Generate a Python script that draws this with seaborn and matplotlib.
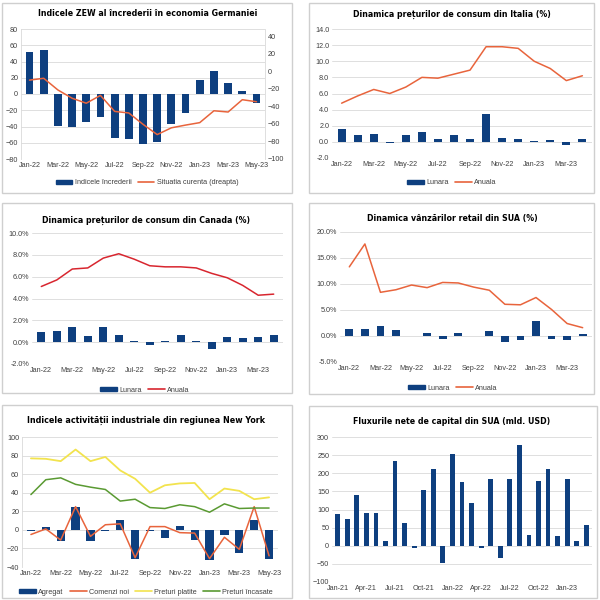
import numpy as np
import matplotlib
matplotlib.use("Agg")
import matplotlib.pyplot as plt
import seaborn as sns
from matplotlib.patches import Rectangle, Patch
from matplotlib.lines import Line2D
from matplotlib.ticker import FuncFormatter

# ---- data ----
months_22_23 = ["Jan-22", "Feb-22", "Mar-22", "Apr-22", "May-22", "Jun-22", "Jul-22", "Aug-22",
                "Sep-22", "Oct-22", "Nov-22", "Dec-22", "Jan-23", "Feb-23", "Mar-23", "Apr-23", "May-23"]

zew_incredere = [51.7, 54.3, -39.3, -41.0, -34.3, -28.0, -53.8, -55.3, -61.9, -59.2, -36.7, -23.3,
                 16.9, 28.1, 13.0, 4.1, -10.7]
zew_situatia = [-10.2, -8.1, -21.4, -30.8, -36.5, -27.6, -45.8, -47.6, -60.5, -72.2, -64.5, -61.4,
                -58.6, -45.1, -46.5, -32.5, -34.8]

italia_lunara = [1.6, 0.9, 1.0, -0.1, 0.8, 1.2, 0.4, 0.8, 0.3, 3.4, 0.5, 0.3, 0.1, 0.2, -0.4, 0.4]
italia_anuala = [4.8, 5.7, 6.5, 6.0, 6.8, 8.0, 7.9, 8.4, 8.9, 11.8, 11.8, 11.6, 10.0, 9.1, 7.6, 8.2]

canada_lunara = [0.9, 1.0, 1.4, 0.6, 1.4, 0.7, 0.1, -0.3, 0.1, 0.7, 0.1, -0.6, 0.5, 0.4, 0.5, 0.7]
canada_anuala = [5.1, 5.7, 6.7, 6.8, 7.7, 8.1, 7.6, 7.0, 6.9, 6.9, 6.8, 6.3, 5.9, 5.2, 4.3, 4.4]

sua_lunara = [1.4, 1.3, 2.0, 1.2, 0.0, 0.5, -0.5, 0.6, 0.0, 1.0, -1.2, -0.8, 2.8, -0.6, -0.7, 0.4]
sua_anuala = [13.3, 17.7, 8.4, 8.9, 9.8, 9.3, 10.3, 10.2, 9.4, 8.8, 6.1, 6.0, 7.4, 5.1, 2.4, 1.6]

ny_agregat = [-0.7, 3.1, -11.8, 24.6, -11.6, -1.2, 11.1, -31.3, -1.5, -9.1, 4.5, -11.2,
              -32.9, -5.8, -24.6, 10.8, -31.8]
ny_comenzi = [-5.0, 1.0, -11.0, 25.0, -7.0, 5.5, 6.5, -30.0, 3.5, 3.5, -3.0, -3.5,
              -31.0, -8.0, -21.0, 25.0, -28.0]
ny_platite = [77.0, 76.5, 74.0, 86.5, 74.0, 78.5, 64.0, 55.0, 40.0, 48.0, 50.0, 50.5,
              33.0, 44.5, 42.0, 33.0, 35.0]
ny_incasate = [38.0, 54.0, 56.0, 49.0, 46.0, 43.5, 31.0, 33.0, 24.0, 23.0, 27.0, 25.0,
               19.0, 28.0, 23.0, 23.5, 23.5]

flux_months = ["Jan-21", "Feb-21", "Mar-21", "Apr-21", "May-21", "Jun-21", "Jul-21", "Aug-21", "Sep-21",
               "Oct-21", "Nov-21", "Dec-21", "Jan-22", "Feb-22", "Mar-22", "Apr-22", "May-22", "Jun-22",
               "Jul-22", "Aug-22", "Sep-22", "Oct-22", "Nov-22", "Dec-22", "Jan-23", "Feb-23", "Mar-23"]
flux_values = [88, 75, 140, 89, 89, 14, 233, 64, -5, 153, 213, -47, 253, 175, 117, -6, 185, -33,
               185, 277, 30, 178, 213, 26, 183, 13, 57]

# ---- style ----
BLUE = "#0e3f7f"
ORANGE = "#e8643c"
RED = "#d8262f"
YELLOW = "#f2e34e"
GREEN = "#5a9a32"
GRID = "#d9d9d9"
TXT = "#404040"

sns.set_style("white")
plt.rcParams["font.family"] = ["Liberation Sans", "DejaVu Sans"]

fig = plt.figure(figsize=(6, 6), dpi=100)
fig.patch.set_facecolor("white")
renderer = fig.canvas.get_renderer()


def px(l, t, r, b):
    return [l / 600, 1 - b / 600, (r - l) / 600, (b - t) / 600]


def frame(l, t, r, b):
    fig.patches.append(Rectangle((l / 600, 1 - b / 600), (r - l) / 600, (b - t) / 600,
                                 transform=fig.transFigure, fill=False,
                                 edgecolor="#cfcfcf", lw=1.0))


def title(text, cx, cy, width_px):
    # shrink the font until the title is as wide as in the reference
    t = fig.text(cx / 600, 1 - cy / 600, text, ha="center", va="center", fontsize=10,
                 fontweight="bold", family="DejaVu Sans", fontstretch="condensed", color="black")
    w = t.get_window_extent(renderer).width
    t.set_fontsize(10 * width_px / w)


def bars(ax, vals, width):
    sns.barplot(x=np.arange(len(vals)), y=vals, color=BLUE, saturation=1, width=width,
                linewidth=0, ax=ax)


def style_ax(ax, left_spine=False):
    for s in ax.spines.values():
        s.set_visible(False)
    if left_spine:
        ax.spines["left"].set_visible(True)
        ax.spines["left"].set_color(GRID)
        ax.spines["left"].set_linewidth(0.6)
    ax.yaxis.grid(True, color=GRID, lw=0.6)
    ax.xaxis.grid(False)
    ax.set_axisbelow(True)
    ax.tick_params(axis="both", length=0, labelsize=5.2, colors=TXT, pad=2)
    ax.set_xlabel("")
    ax.set_ylabel("")


def month_ticks(ax, labels, n_labels):
    pos = list(range(0, n_labels, 2))
    ax.set_xticks(pos)
    ax.set_xticklabels([labels[i] for i in pos])


def legend(ax, handles, labels, cx, cy):
    fig.legend(handles, labels, loc="center", bbox_to_anchor=(cx / 600, 1 - cy / 600),
               ncol=len(handles), frameon=False, fontsize=5.2, handlelength=2.3,
               handleheight=0.5, columnspacing=0.9, handletextpad=0.3, labelcolor=TXT)


bar_h = Patch(facecolor=BLUE, edgecolor=BLUE)

# ---- panel 1: ZEW ----
frame(2, 3, 292, 193)
title("Indicele ZEW al încrederii în economia Germaniei", 148, 14, 218)
ax = fig.add_axes(px(21, 29, 265, 159))
n = len(zew_incredere)
bars(ax, zew_incredere, 0.55)
ax2 = ax.twinx()
sns.lineplot(x=np.arange(n), y=zew_situatia, color=ORANGE, lw=1.1, ax=ax2)
ax.set_ylim(-80, 80)
ax.set_yticks(range(-80, 81, 20))
ax2.set_ylim(-100, 48)
ax2.set_yticks(range(-100, 41, 20))
ax.set_xlim(-0.6, n - 0.4)
month_ticks(ax, months_22_23, n)
style_ax(ax, left_spine=True)
for s in ax2.spines.values():
    s.set_visible(False)
ax2.spines["right"].set_visible(True)
ax2.spines["right"].set_color(GRID)
ax2.spines["right"].set_linewidth(0.6)
ax2.tick_params(axis="y", length=0, labelsize=5.2, colors=TXT, pad=2)
ax2.set_ylabel("")
legend(ax, [bar_h, Line2D([], [], color=ORANGE, lw=1.2)],
       ["Indicele încrederii", "Situatia curenta (dreapta)"], 147, 183)

# ---- panel 2: Italia ----
frame(309, 3, 594, 193)
title("Dinamica prețurilor de consum din Italia (%)", 452, 14, 196)
ax = fig.add_axes(px(332, 29, 592, 158))
n = len(italia_lunara)
bars(ax, italia_lunara, 0.5)
sns.lineplot(x=np.arange(n), y=italia_anuala, color=ORANGE, lw=1.1, ax=ax)
ax.set_ylim(-2, 14)
ax.set_yticks(np.arange(-2, 14.1, 2))
ax.yaxis.set_major_formatter(FuncFormatter(lambda v, p: f"{v:.1f}"))
ax.set_xlim(-0.6, n - 0.4)
month_ticks(ax, months_22_23, n)
style_ax(ax)
legend(ax, [bar_h, Line2D([], [], color=ORANGE, lw=1.2)], ["Lunara", "Anuala"], 452, 183)

# ---- panel 3: Canada ----
frame(2, 203, 292, 393)
title("Dinamica prețurilor de consum din Canada (%)", 146, 220, 205)
ax = fig.add_axes(px(32, 233, 283, 364))
n = len(canada_lunara)
bars(ax, canada_lunara, 0.5)
sns.lineplot(x=np.arange(n), y=canada_anuala, color=RED, lw=1.1, ax=ax)
ax.set_ylim(-2, 10)
ax.set_yticks(np.arange(-2, 10.1, 2))
ax.yaxis.set_major_formatter(FuncFormatter(lambda v, p: f"{v:.1f}%"))
ax.set_xlim(-0.6, n - 0.4)
month_ticks(ax, months_22_23, n)
style_ax(ax)
legend(ax, [bar_h, Line2D([], [], color=RED, lw=1.2)], ["Lunara", "Anuala"], 145, 390)

# ---- panel 4: SUA retail ----
frame(309, 203, 594, 394)
title("Dinamica vânzărilor retail din SUA (%)", 452, 219, 170)
ax = fig.add_axes(px(340, 232, 592, 362))
n = len(sua_lunara)
bars(ax, sua_lunara, 0.5)
sns.lineplot(x=np.arange(n), y=sua_anuala, color=ORANGE, lw=1.1, ax=ax)
ax.set_ylim(-5, 20)
ax.set_yticks(np.arange(-5, 20.1, 5))
ax.yaxis.set_major_formatter(FuncFormatter(lambda v, p: f"{v:.1f}%"))
ax.set_xlim(-0.6, n - 0.4)
month_ticks(ax, months_22_23, n)
style_ax(ax)
legend(ax, [bar_h, Line2D([], [], color=ORANGE, lw=1.2)], ["Lunara", "Anuala"], 453, 388)

# ---- panel 5: New York ----
frame(2, 405, 292, 598)
title("Indicele activității industriale din regiunea New York", 146, 420, 235)
ax = fig.add_axes(px(22, 437, 278, 567))
n = len(ny_agregat)
bars(ax, ny_agregat, 0.55)
sns.lineplot(x=np.arange(n), y=ny_comenzi, color=ORANGE, lw=1.1, ax=ax)
sns.lineplot(x=np.arange(n), y=ny_platite, color=YELLOW, lw=1.3, ax=ax)
sns.lineplot(x=np.arange(n), y=ny_incasate, color=GREEN, lw=1.1, ax=ax)
ax.set_ylim(-40, 100)
ax.set_yticks(range(-40, 101, 20))
ax.set_xlim(-0.6, n - 0.4)
month_ticks(ax, months_22_23, n)
style_ax(ax, left_spine=True)
legend(ax, [bar_h, Line2D([], [], color=ORANGE, lw=1.2), Line2D([], [], color=YELLOW, lw=1.2),
            Line2D([], [], color=GREEN, lw=1.2)],
       ["Agregat", "Comenzi noi", "Preturi platite", "Preturi încasate"], 146, 592)

# ---- panel 6: fluxuri capital ----
frame(309, 406, 597, 598)
title("Fluxurile nete de capital din SUA (mld. USD)", 452, 421, 195)
ax = fig.add_axes(px(332, 437, 592, 582))
n = len(flux_values)
bars(ax, flux_values, 0.5)
ax.set_ylim(-100, 300)
ax.set_yticks(range(-100, 301, 50))
ax.set_xlim(-0.6, n - 0.4)
pos = list(range(0, n, 3))
ax.set_xticks(pos)
ax.set_xticklabels([flux_months[i] for i in pos])
style_ax(ax)

fig.savefig("out.png", dpi=100, facecolor="white")
